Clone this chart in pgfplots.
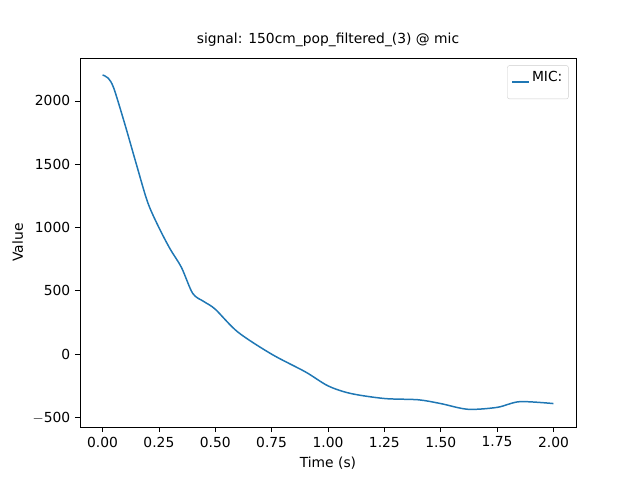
\documentclass[border=0pt]{standalone}
\usepackage{pgfplots}
\pgfplotsset{compat=1.18}
\usepackage{fontspec}
\setmainfont{DejaVu Sans}
\begin{document}
\fontsize{13.9}{16}\selectfont
\begin{tikzpicture}
\begin{axis}[
  name=ax,
  scale only axis, width=496bp, height=369bp,
  xmin=-0.1, xmax=2.1, ymin=-575, ymax=2339,
  xtick={0,0.25,0.5,0.75,1,1.25,1.5,1.75,2},
  xticklabels={0.00,0.25,0.50,0.75,1.00,1.25,1.50,1.75,2.00},
  ytick={-500,0,500,1000,1500,2000},
  yticklabels={$-$500,0,500,1000,1500,2000},
  tick align=outside, tick style={black, line width=0.8pt}, major tick length=5bp,
  xtick pos=bottom, ytick pos=left,
  xlabel={Time (s)}, ylabel={Value},
  title={signal: 150cm\_pop\_filtered\_(3) @ mic},
  legend style={at={(0.985,0.98)}, anchor=north east, draw=black!20, rounded corners=2pt, font=\fontsize{13.9}{16}\selectfont, inner sep=4bp},
  legend cell align=left,
]
\addplot[color={rgb,255:red,31;green,119;blue,180}, line width=1.5pt, smooth] coordinates {
(0,2205)(0.025,2180)(0.05,2100)(0.1,1810)(0.15,1500)(0.2,1200)(0.25,1000)(0.3,830)(0.35,685)(0.4,480)(0.45,415)(0.5,355)(0.6,175)(0.75,0)(0.9,-140)(1.0,-250)(1.1,-310)(1.25,-350)(1.4,-360)(1.5,-390)(1.62,-435)(1.75,-420)(1.85,-375)(2.0,-390)};
\addlegendentry{\raisebox{9bp}{MIC:}\rule[-12bp]{0pt}{0pt}\hspace{20bp}}
\end{axis}
\path[use as bounding box] ([shift={(-80bp,-53bp)}]ax.south west) rectangle ([shift={(64bp,58bp)}]ax.north east);
\end{tikzpicture}
\end{document}
